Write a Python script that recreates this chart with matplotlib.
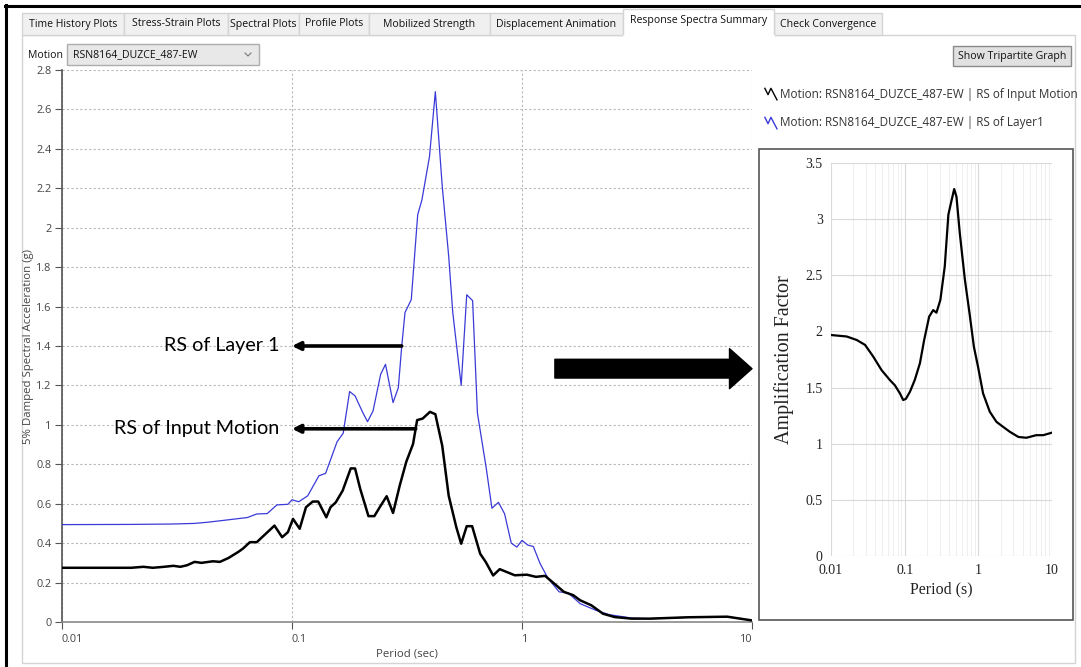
import matplotlib
matplotlib.use("Agg")
import matplotlib.pyplot as plt
from matplotlib.patches import Rectangle
from matplotlib.lines import Line2D
from matplotlib.path import Path
from matplotlib.ticker import FixedLocator, FormatStrFormatter, NullLocator

W, H = 1081, 667

# RS of input motion (black)
period_in = [0.01, 0.02, 0.0226, 0.0248, 0.0278, 0.0305, 0.0327, 0.035, 0.0377, 0.0404,
             0.0453, 0.0486, 0.053, 0.0585, 0.0613, 0.0656, 0.0703, 0.0768, 0.0839, 0.0906,
             0.096, 0.101, 0.108, 0.115, 0.123, 0.13, 0.141, 0.147, 0.155, 0.166,
             0.18, 0.188, 0.198, 0.215, 0.228, 0.243, 0.258, 0.275, 0.294, 0.314,
             0.336, 0.35, 0.37, 0.398, 0.42, 0.45, 0.48, 0.518, 0.544, 0.575,
             0.607, 0.658, 0.696, 0.749, 0.8, 0.93, 1.05, 1.15, 1.26, 1.38,
             1.52, 1.67, 1.79, 2.0, 2.25, 2.53, 3.0, 3.6, 5.3, 7.8, 10.0]
sa_in = [0.275, 0.275, 0.28, 0.275, 0.28, 0.285, 0.28, 0.288, 0.305, 0.30,
         0.308, 0.305, 0.325, 0.356, 0.373, 0.405, 0.405, 0.447, 0.489, 0.43,
         0.456, 0.523, 0.473, 0.582, 0.611, 0.611, 0.531, 0.582, 0.607, 0.666,
         0.779, 0.779, 0.675, 0.537, 0.537, 0.59, 0.638, 0.553, 0.692, 0.813,
         0.903, 1.024, 1.032, 1.066, 1.054, 0.894, 0.641, 0.481, 0.397, 0.486,
         0.486, 0.346, 0.304, 0.236, 0.268, 0.237, 0.24, 0.229, 0.234, 0.195,
         0.153, 0.136, 0.11, 0.085, 0.042, 0.025, 0.017, 0.017, 0.024, 0.027, 0.008]

# RS of layer 1 (blue)
period_l1 = [0.01, 0.02, 0.03, 0.0375, 0.0429, 0.05, 0.064, 0.0703, 0.078, 0.086,
             0.096, 0.1, 0.107, 0.117, 0.131, 0.14, 0.157, 0.167, 0.178, 0.188,
             0.203, 0.213, 0.225, 0.243, 0.255, 0.275, 0.29, 0.30, 0.31, 0.33,
             0.352, 0.367, 0.396, 0.42, 0.45, 0.48, 0.5, 0.544, 0.575, 0.61,
             0.64, 0.70, 0.74, 0.79, 0.84, 0.898, 0.95, 1.0, 1.06, 1.12,
             1.2, 1.3, 1.45, 1.59, 1.79, 2.1, 2.4, 3.0, 3.6, 5.3, 7.8, 10.0]
sa_l1 = [0.494, 0.495, 0.497, 0.50, 0.506, 0.515, 0.53, 0.548, 0.55, 0.594,
         0.597, 0.62, 0.61, 0.64, 0.742, 0.754, 0.914, 0.958, 1.169, 1.147,
         1.063, 1.016, 1.07, 1.257, 1.307, 1.113, 1.189, 1.40, 1.57, 1.635,
         2.066, 2.14, 2.36, 2.69, 2.21, 1.856, 1.57, 1.2, 1.66, 1.63,
         1.06, 0.776, 0.577, 0.607, 0.549, 0.40, 0.38, 0.414, 0.39, 0.383,
         0.295, 0.22, 0.153, 0.147, 0.093, 0.059, 0.037, 0.02, 0.017, 0.024, 0.027, 0.008]

# amplification factor (inset)
period_af = [0.01, 0.0163, 0.0223, 0.029, 0.0375, 0.0485, 0.063, 0.0737, 0.0863, 0.0955,
             0.104, 0.118, 0.137, 0.161, 0.184, 0.215, 0.244, 0.27, 0.305, 0.35,
             0.392, 0.43, 0.47, 0.505, 0.56, 0.657, 0.76, 0.87, 0.99, 1.16,
             1.43, 1.76, 2.17, 2.68, 3.5, 4.5, 6.1, 7.6, 9.8]
amp = [1.968, 1.955, 1.924, 1.88, 1.775, 1.656, 1.567, 1.52, 1.448, 1.389,
       1.40, 1.463, 1.567, 1.716, 1.924, 2.132, 2.19, 2.167, 2.28, 2.578,
       3.04, 3.158, 3.268, 3.2, 2.875, 2.46, 2.16, 1.864, 1.686, 1.448,
       1.285, 1.195, 1.15, 1.106, 1.06, 1.053, 1.076, 1.076, 1.097]

tabs = ['Time History Plots', 'Stress-Strain Plots', 'Spectral Plots', 'Profile Plots',
        'Mobilized Strength', 'Displacement Animation', 'Response Spectra Summary',
        'Check Convergence']
tab_edges = [22, 124, 228, 299, 369, 490, 623, 774, 882]
legend_labels = ['Motion: RSN8164_DUZCE_487-EW | RS of Input Motion',
                 'Motion: RSN8164_DUZCE_487-EW | RS of Layer1']

ui_font = 'Open Sans'
ui_size = 7.6
blue = '#3a3ad8'

fig = plt.figure(figsize=(W / 100, H / 100), dpi=100)
fig.patch.set_facecolor('white')


def box(x0, y0, x1, y1):
    return [x0 / W, 1 - y1 / H, (x1 - x0) / W, (y1 - y0) / H]


# window chrome drawn in pixel space
bg = fig.add_axes([0, 0, 1, 1], zorder=0)
bg.set_xlim(0, W)
bg.set_ylim(H, 0)
bg.axis('off')
bg.add_patch(Rectangle((22, 35), 1053, 628, fc='white', ec='#d4d4d4', lw=1))
for i, t in enumerate(tabs):
    x0, x1 = tab_edges[i], tab_edges[i + 1]
    if i == 6:
        bg.add_patch(Rectangle((x0, 9), x1 - x0, 27, fc='white', ec='#d4d4d4', lw=1, zorder=3))
        bg.plot([x0 + 1, x1 - 1], [35.5, 35.5], color='white', lw=2, zorder=4)
        bg.text((x0 + x1) / 2, 21, t, ha='center', va='center', fontsize=ui_size,
                family=ui_font, color='#111', zorder=5)
    else:
        bg.add_patch(Rectangle((x0, 13), x1 - x0, 22, fc='#f0f0f0', ec='#d4d4d4', lw=1, zorder=2))
        bg.text((x0 + x1) / 2, 24, t, ha='center', va='center', fontsize=ui_size,
                family=ui_font, color='#111', zorder=5)
bg.plot([5, W], [6, 6], color='black', lw=2.2)
bg.plot([6, 6], [5, H], color='black', lw=2.2)

bg.text(28, 55, 'Motion', ha='left', va='center', fontsize=ui_size, family=ui_font, color='#111')
bg.add_patch(Rectangle((67, 44), 192, 21, fc='#e8e8e8', ec='#adadad', lw=1))
bg.text(73, 55, 'RSN8164_DUZCE_487-EW', ha='left', va='center', fontsize=ui_size,
        family=ui_font, color='#111')
bg.plot([245, 248, 251], [53, 56, 53], color='#777', lw=0.8)
bg.add_patch(Rectangle((953, 46), 118, 20, fc='#e1e1e1', ec='#8a8a8a', lw=1))
bg.text(1012, 56, 'Show Tripartite Graph', ha='center', va='center', fontsize=ui_size,
        family=ui_font, color='#111')

# inset frame
bg.add_patch(Rectangle((759, 149), 314, 471, fc='white', ec='#555555', lw=1.2))

# main spectra axes
ax = fig.add_axes(box(62, 70, 752, 622), zorder=1)
ax.set_facecolor('none')
ax.plot(period_l1, sa_l1, color=blue, lw=0.9, zorder=3)
ax.plot(period_in, sa_in, color='black', lw=1.8, zorder=4)
ax.set_xscale('log')
ax.set_xlim(0.01, 10)
ax.set_ylim(0, 2.8)
ax.xaxis.set_major_locator(FixedLocator([0.01, 0.1, 1, 10]))
ax.xaxis.set_minor_locator(NullLocator())
ax.set_xticklabels(['0.01', '0.1', '1', '10'])
for lbl in ax.get_xticklabels()[:3]:
    lbl.set_ha('left')
ax.get_xticklabels()[3].set_ha('right')
ax.yaxis.set_major_locator(FixedLocator([i * 0.2 for i in range(15)]))
ax.yaxis.set_major_formatter(FormatStrFormatter('%g'))
ax.grid(True, color='#b8b8b8', ls=(0, (2, 2)), lw=0.8)
for s in ['top', 'right']:
    ax.spines[s].set_visible(False)
ax.spines['left'].set_color('#555555')
ax.spines['bottom'].set_color('#8a8a8a')
ax.spines['left'].set_linewidth(1.2)
ax.spines['bottom'].set_linewidth(1.2)
ax.tick_params(axis='both', direction='out', length=5, color='#555555',
               labelsize=7.8, labelcolor='#444444')
ax.tick_params(axis='y', pad=2.5)
for lbl in ax.get_xticklabels() + ax.get_yticklabels():
    lbl.set_family(ui_font)
ax.set_xlabel('Period (sec)', fontsize=8.2, family=ui_font, color='#444444', labelpad=3)
ax.set_ylabel('5% Damped Spectral Acceleration (g)', fontsize=8.2, family=ui_font,
              color='#444444')
ax.yaxis.set_label_coords(-0.04, 0.5)

# callouts
ax.annotate('', xy=(0.1, 1.4), xytext=(0.30, 1.4),
            arrowprops=dict(arrowstyle='-|>', color='black', lw=2.6, mutation_scale=12,
                            shrinkA=0, shrinkB=0), zorder=6)
ax.text(0.088, 1.4, 'RS of Layer 1', ha='right', va='center', fontsize=14.2,
        family='Lato', color='black')
ax.annotate('', xy=(0.1, 0.98), xytext=(0.345, 0.98),
            arrowprops=dict(arrowstyle='-|>', color='black', lw=2.6, mutation_scale=12,
                            shrinkA=0, shrinkB=0), zorder=6)
ax.text(0.088, 0.98, 'RS of Input Motion', ha='right', va='center', fontsize=14.2,
        family='Lato', color='black')
ax.annotate('', xy=(10, 1.285), xytext=(1.39, 1.285),
            arrowprops=dict(arrowstyle='simple,head_length=0.9,head_width=1.6,tail_width=0.75',
                            color='black', mutation_scale=18, shrinkA=0, shrinkB=0),
            annotation_clip=False, zorder=6)

# legend with zigzag icons
zig = Path([(-0.6, 0.5), (-0.3, -0.1), (-0.05, 0.45), (0.5, -0.6)])
handles = [Line2D([], [], ls='none', marker=zig, markersize=10, mfc='none', mec='black', mew=1.0),
           Line2D([], [], ls='none', marker=zig, markersize=10, mfc='none', mec=blue, mew=1.0)]
fig.legend(handles, legend_labels, loc='upper left', bbox_to_anchor=(756 / W, 1 - 77 / H),
           frameon=False, handlelength=0.8, handletextpad=0.3, labelspacing=1.3,
           prop={'family': ui_font, 'size': 8.5}, labelcolor='#333333')

# amplification factor inset
ins = fig.add_axes(box(831, 163, 1052, 556), zorder=2)
ins.plot(period_af, amp, color='black', lw=1.6)
ins.set_xscale('log')
ins.set_xlim(0.01, 10)
ins.set_ylim(0, 3.5)
ins.xaxis.set_major_locator(FixedLocator([0.01, 0.1, 1, 10]))
ins.set_xticklabels(['0.01', '0.1', '1', '10'])
ins.yaxis.set_major_locator(FixedLocator([0, 0.5, 1, 1.5, 2, 2.5, 3, 3.5]))
ins.yaxis.set_major_formatter(FormatStrFormatter('%g'))
ins.grid(True, which='major', color='#d9d9d9', lw=0.8)
ins.grid(True, which='minor', axis='x', color='#ececec', lw=0.6)
for s in ins.spines.values():
    s.set_visible(False)
ins.tick_params(axis='both', which='both', length=0, labelsize=10, pad=6)
for lbl in ins.get_xticklabels() + ins.get_yticklabels():
    lbl.set_family('Liberation Serif')
    lbl.set_color('#222222')
ins.set_xlabel('Period (s)', fontsize=11.5, family='Liberation Serif', color='#222222', labelpad=3)
ins.set_ylabel('Amplification Factor', fontsize=14.5, family='Liberation Serif',
               color='#222222', labelpad=8)

fig.savefig('out.png', dpi=100)
